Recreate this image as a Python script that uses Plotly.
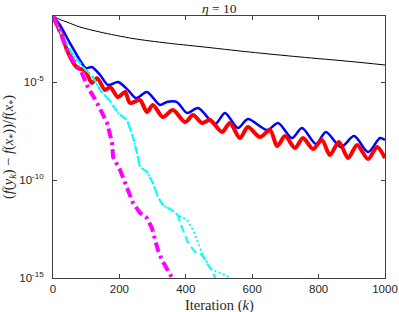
import plotly.graph_objects as go

# ---- data (iteration k, log10 of relative error) ----
black_k = [0, 21, 42, 81, 142, 241, 343, 443, 593, 744, 895, 1000]
black_e = [-1.63, -1.81, -1.94, -2.19, -2.45, -2.78, -3.01, -3.19, -3.47, -3.72, -3.95, -4.13]

blue_k = [0, 21, 51, 81, 99, 117, 142, 166, 196, 226, 250, 283, 322, 343, 373, 404, 437,
          488, 518, 557, 587, 645, 678, 720, 750, 792, 822, 867, 907, 949, 985, 1000]
blue_e = [-1.63, -2.09, -3.01, -3.88, -4.29, -4.23, -4.64, -5.15, -5.00, -5.41, -5.82, -5.51,
          -6.17, -6.02, -6.02, -6.58, -6.33, -7.14, -6.58, -7.35, -6.89, -7.45, -7.09, -7.86,
          -7.35, -8.16, -7.55, -8.32, -7.76, -8.57, -7.86, -7.96]

red_k = [0, 15, 27, 42, 60, 75, 96, 117, 133, 157, 172, 196, 217, 232, 262, 283, 301, 331,
         361, 398, 422, 449, 473, 509, 533, 563, 587, 623, 654, 675, 699, 729, 753, 783, 810,
         834, 861, 889, 916, 949, 976, 1000]
red_e = [-1.63, -2.19, -2.60, -3.37, -3.98, -4.29, -4.39, -5.05, -4.80, -5.41, -5.26, -5.77,
         -5.51, -6.07, -5.92, -6.53, -6.17, -6.79, -6.43, -7.04, -6.68, -7.09, -6.94, -7.55,
         -7.09, -7.86, -7.30, -7.81, -7.45, -8.27, -7.76, -8.37, -7.86, -8.42, -7.96, -8.72,
         -8.06, -8.88, -8.21, -8.93, -8.32, -8.88]

cyan_common_k = [0, 30, 57, 90, 120, 142, 172, 196, 223, 241, 253, 262, 283, 301, 316, 331, 358, 376]
cyan_common_e = [-1.63, -2.70, -3.52, -4.23, -4.74, -5.41, -5.97, -6.58, -6.94, -7.81, -8.62,
                 -9.34, -9.59, -10.15, -10.87, -11.28, -11.53, -11.79]

cyan_dot_k = cyan_common_k + [404, 422, 437, 452, 467, 479, 503, 524, 533]
cyan_dot_e = cyan_common_e + [-12.04, -12.55, -13.21, -13.83, -14.29, -14.59, -14.74, -14.90, -15.05]

cyan_dash_k = cyan_common_k + [383, 407, 428, 449, 467, 482, 488, 491]
cyan_dash_e = cyan_common_e + [-12.19, -13.21, -13.67, -13.83, -14.34, -14.69, -15.0, -15.15]

magenta_k = [0, 15, 27, 42, 60, 87, 105, 133, 163, 178, 181, 202, 217, 226, 241, 262, 283,
             298, 307, 316, 328, 337, 352, 358, 364]
magenta_e = [-1.63, -2.19, -2.70, -3.37, -3.88, -4.54, -5.26, -6.07, -7.09, -8.11, -8.83,
             -9.49, -10.15, -10.51, -11.17, -11.68, -11.94, -12.45, -13.06, -13.57, -14.08,
             -14.34, -14.74, -15.00, -15.15]

x_ticks = [0, 200, 400, 600, 800, 1000]
y_ticks = [1e-15, 1e-10, 1e-5]
y_ticktext = ["10<sup>-15</sup>", "10<sup>-10</sup>", "10<sup>-5</sup>"]


def pw(e):
    return [10 ** v for v in e]


fig = go.Figure()
fig.add_trace(go.Scatter(x=black_k, y=pw(black_e), mode="lines",
                         line=dict(color="black", width=1, shape="spline", smoothing=0.8)))
fig.add_trace(go.Scatter(x=blue_k, y=pw(blue_e), mode="lines",
                         line=dict(color="#0000ff", width=2.5, shape="spline", smoothing=0.8)))
fig.add_trace(go.Scatter(x=red_k, y=pw(red_e), mode="lines",
                         line=dict(color="#ff0000", width=4, shape="spline", smoothing=0.8)))
fig.add_trace(go.Scatter(x=cyan_dash_k, y=pw(cyan_dash_e), mode="lines",
                         line=dict(color="#00ffff", width=2, dash="8px,4px")))
fig.add_trace(go.Scatter(x=cyan_dot_k, y=pw(cyan_dot_e), mode="lines",
                         line=dict(color="#00ffff", width=2, dash="2px,2.5px")))
fig.add_trace(go.Scatter(x=magenta_k, y=pw(magenta_e), mode="lines",
                         line=dict(color="#ff00ff", width=4, dash="10px,4px,3px,4px")))

axcol = "#404040"
tickfont = dict(family="Liberation Sans", size=11.5, color="#262626")
serif = dict(family="Liberation Serif", size=14.5, color="#262626")
title_font = dict(family="Liberation Serif", size=13.5, color="#262626")
fig.update_layout(
    width=399, height=312, autosize=False,
    margin=dict(l=53, r=14, t=16, b=34, autoexpand=False),
    paper_bgcolor="white", plot_bgcolor="white",
    showlegend=False,
    xaxis=dict(range=[0, 1000], tickvals=x_ticks, ticks="inside", ticklen=4,
               tickcolor=axcol, showline=True, linecolor=axcol, linewidth=1,
               mirror="ticks", showgrid=False, zeroline=False, tickfont=tickfont,
               automargin=False),
    yaxis=dict(type="log", range=[-15, -1.63], tickvals=y_ticks, ticktext=y_ticktext,
               ticks="inside", ticklen=4, tickcolor=axcol, showline=True, linecolor=axcol,
               linewidth=1, mirror="ticks", showgrid=False, zeroline=False,
               tickfont=tickfont, ticklabelstandoff=6, automargin=False),
    annotations=[
        dict(text="<i>η</i> = 10", x=0.5, y=1.0, xref="paper", yref="paper",
             xanchor="center", yanchor="bottom", yshift=-1, showarrow=False,
             borderpad=0, font=title_font),
        dict(text="Iteration (<i>k</i>)", x=0.5, y=0, xref="paper", yref="paper",
             xanchor="center", yanchor="top", yshift=-17, showarrow=False, font=serif),
        dict(text="(<i>f</i>(<i>y<sub>k</sub></i>) − <i>f</i>(<i>x</i><sub>*</sub>))/<i>f</i>(<i>x</i><sub>*</sub>)",
             x=0, y=0.5, xref="paper", yref="paper", xanchor="center", yanchor="middle",
             xshift=-44, textangle=-90, showarrow=False, font=serif),
    ],
)

fig.write_html("out.html", config={"responsive": False, "displayModeBar": False},
               post_script="document.body.style.margin='0';document.body.style.overflow='hidden';")
